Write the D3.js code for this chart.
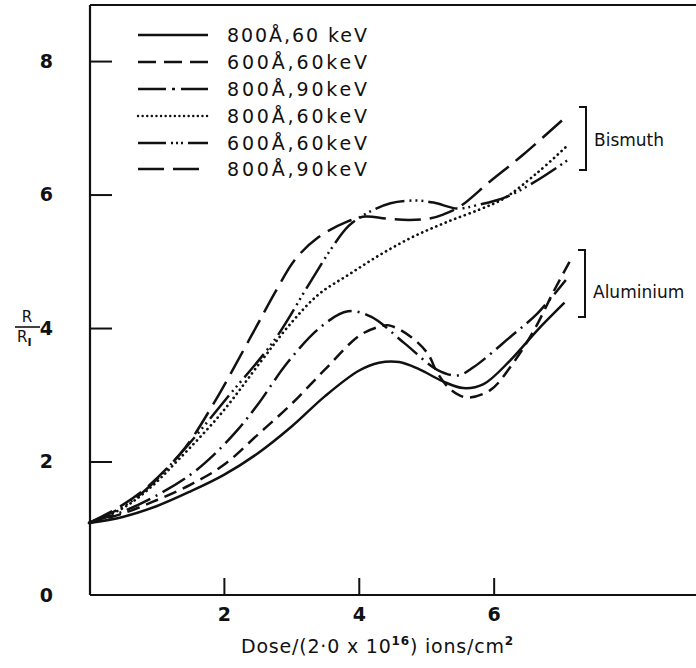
<!DOCTYPE html>
<html>
<head>
<meta charset="utf-8">
<script src="https://cdn.jsdelivr.net/npm/d3@7"></script>
<style>
  html, body { margin: 0; padding: 0; background: #fff; }
  svg { display: block; }
  text { font-family: "DejaVu Sans", "Liberation Sans", sans-serif; fill: #111; }
</style>
</head>
<body>
<svg id="chart" width="696" height="668"></svg>
<script>
// ---------------- data ----------------
const seriesNames = ["800Å,60 keV", "600Å,60keV", "800Å,90keV", "800Å,60keV", "600Å,60keV", "800Å,90keV"];
const seriesGroup = ["Aluminium", "Aluminium", "Aluminium", "Bismuth", "Bismuth", "Bismuth"];

// Aluminium, 800 Å, 60 keV (solid)
const alSolidX = [0, 0.5, 1.0, 1.5, 2.0, 2.5, 3.0, 3.5, 4.0, 4.3, 4.6, 4.9, 5.25, 5.55, 5.85, 6.25, 6.65, 7.05];
const alSolidY = [1.08, 1.17, 1.33, 1.55, 1.80, 2.12, 2.52, 2.98, 3.36, 3.48, 3.49, 3.38, 3.20, 3.10, 3.16, 3.52, 3.97, 4.38];
// Aluminium, 600 Å, 60 keV (dashed)
const alDashX = [0, 0.5, 1.0, 1.5, 2.0, 2.5, 3.0, 3.5, 4.0, 4.3, 4.45, 4.77, 5.02, 5.17, 5.37, 5.6, 5.95, 6.25, 6.6, 6.9, 7.14];
const alDashY = [1.08, 1.22, 1.42, 1.65, 1.95, 2.40, 2.86, 3.38, 3.88, 4.02, 4.04, 3.87, 3.62, 3.32, 3.07, 2.96, 3.07, 3.42, 3.97, 4.57, 5.02];
// Aluminium, 800 Å, 90 keV (dash-dot)
const alDashDotX = [0, 0.5, 1.0, 1.5, 1.85, 2.2, 2.5, 2.95, 3.44, 3.84, 4.18, 4.68, 5.17, 5.47, 5.71, 6.25, 6.65, 7.07];
const alDashDotY = [1.08, 1.25, 1.49, 1.80, 2.10, 2.47, 2.85, 3.49, 4.02, 4.25, 4.17, 3.77, 3.37, 3.29, 3.42, 3.87, 4.22, 4.72];
// Bismuth, 800 Å, 60 keV (dotted)
const biDotX = [0, 0.5, 0.9, 1.32, 1.96, 2.55, 2.95, 3.4, 3.85, 4.32, 4.81, 5.31, 5.8, 6.15, 6.64, 7.1];
const biDotY = [1.08, 1.30, 1.60, 2.02, 2.72, 3.50, 4.02, 4.50, 4.80, 5.10, 5.37, 5.59, 5.78, 5.94, 6.32, 6.74];
// Bismuth, 600 Å, 60 keV (dash-dot-dot)
const biDashDotDotX = [0, 0.5, 0.9, 1.47, 2.06, 2.75, 3.24, 3.58, 3.85, 4.12, 4.47, 4.81, 5.11, 5.46, 5.75, 6.2, 6.69, 7.09];
const biDashDotDotY = [1.08, 1.32, 1.63, 2.25, 2.97, 3.82, 4.62, 5.17, 5.53, 5.72, 5.87, 5.91, 5.88, 5.79, 5.84, 5.97, 6.24, 6.51];
// Bismuth, 800 Å, 90 keV (long dash)
const biLongDashX = [0, 0.5, 0.9, 1.42, 1.86, 2.4, 2.78, 3.05, 3.4, 3.82, 4.1, 4.4, 4.75, 5.05, 5.25, 5.5, 5.95, 6.44, 7.1];
const biLongDashY = [1.08, 1.35, 1.65, 2.20, 2.89, 3.87, 4.57, 5.02, 5.36, 5.59, 5.67, 5.64, 5.62, 5.64, 5.70, 5.82, 6.20, 6.60, 7.19];

const xTicks = [2, 4, 6];
const yTicks = [0, 2, 4, 6, 8];
const xTitle = "Dose/(2·0 x 10";
const xTitleExp = "16";
const xTitleTail = ") ions/cm";

// ---------------- styles (kept separate from data) ----------------
const plotDash = [null, "13,7", "26,6,2,6", "0.1,5", "30,5,2,4,2,4,2,5", "26,9"];
const legendDash = [null, "18,8", "28,6,3,6", "0.1,4.5", "28,5,2,3,2,3,2,5", "26,9"];

const seriesX = [alSolidX, alDashX, alDashDotX, biDotX, biDashDotDotX, biLongDashX];
const seriesY = [alSolidY, alDashY, alDashDotY, biDotY, biDashDotDotY, biLongDashY];

// ---------------- layout ----------------
const svg = d3.select("#chart");
const x = d3.scaleLinear().domain([0, 9.0]).range([89, 696]);
const y = d3.scaleLinear().domain([0, 8.84]).range([595, 5]);

const ink = "#111";

// frame: left axis, bottom axis, top line
svg.append("line").attr("x1", 90).attr("x2", 90).attr("y1", y(8.84)).attr("y2", y(0))
  .attr("stroke", ink).attr("stroke-width", 2.2);
svg.append("line").attr("x1", 90).attr("x2", 696).attr("y1", y(0)).attr("y2", y(0))
  .attr("stroke", ink).attr("stroke-width", 2);
svg.append("line").attr("x1", 90).attr("x2", 696).attr("y1", y(8.84)).attr("y2", y(8.84))
  .attr("stroke", ink).attr("stroke-width", 2);

// y axis (ticks pointing inward)
const yAxis = d3.axisLeft(y).tickValues(yTicks).tickFormat(d3.format("d"))
  .tickSizeInner(-22).tickSizeOuter(0).tickPadding(37);
const gy = svg.append("g").attr("transform", "translate(90,0)").call(yAxis);
gy.select(".domain").remove();
gy.selectAll(".tick line").attr("stroke", ink).attr("stroke-width", 2)
  .attr("display", d => d === 0 ? "none" : null);
gy.selectAll(".tick text").attr("font-size", 19).attr("font-weight", "bold")
  .attr("fill", ink).attr("font-family", "'DejaVu Sans', sans-serif");

// x axis (ticks pointing inward)
const xAxis = d3.axisBottom(x).tickValues(xTicks).tickFormat(d3.format("d"))
  .tickSizeInner(-17).tickSizeOuter(0).tickPadding(13);
const gx = svg.append("g").attr("transform", `translate(0,${y(0)})`).call(xAxis);
gx.select(".domain").remove();
gx.selectAll(".tick line").attr("stroke", ink).attr("stroke-width", 2);
gx.selectAll(".tick text").attr("font-size", 19).attr("font-weight", "bold")
  .attr("fill", ink).attr("font-family", "'DejaVu Sans', sans-serif");

// x axis title
const xt = svg.append("text").attr("x", 241).attr("y", 653).attr("font-size", 19)
  .attr("letter-spacing", 0.8);
xt.append("tspan").text(xTitle);
xt.append("tspan").attr("dy", -8).attr("font-size", 12).attr("font-weight", "bold").text(xTitleExp);
xt.append("tspan").attr("dy", 8).text(xTitleTail);
xt.append("tspan").attr("dy", -8).attr("font-size", 12).attr("font-weight", "bold").text("2");

// y axis title R / R_I
svg.append("text").attr("x", 27).attr("y", 322).attr("text-anchor", "middle")
  .attr("font-size", 15).text("R");
svg.append("line").attr("x1", 15).attr("x2", 40).attr("y1", 327).attr("y2", 327)
  .attr("stroke", ink).attr("stroke-width", 1.6);
const rr = svg.append("text").attr("x", 17).attr("y", 342).attr("font-size", 15);
rr.append("tspan").text("R");
rr.append("tspan").attr("dy", 4).attr("font-size", 11).attr("font-weight", "bold").text("I");

// curves
const line = d3.line().x(d => x(d[0])).y(d => y(d[1])).curve(d3.curveCatmullRom.alpha(0.5));
seriesX.forEach((xs, i) => {
  const pts = xs.map((v, j) => [v, seriesY[i][j]]);
  svg.append("path").datum(pts)
    .attr("d", line)
    .attr("fill", "none")
    .attr("stroke", ink)
    .attr("stroke-width", i === 3 ? 2.7 : 2.5)
    .attr("stroke-linecap", i === 3 ? "round" : "butt")
    .attr("stroke-dasharray", plotDash[i]);
});

// legend
const legendRowsY = [35, 62, 89, 116, 143, 169];
seriesNames.forEach((name, i) => {
  const ly = legendRowsY[i];
  svg.append("line").attr("x1", 138).attr("x2", 208).attr("y1", ly).attr("y2", ly)
    .attr("stroke", ink).attr("stroke-width", 2.4)
    .attr("stroke-linecap", i === 3 ? "round" : "butt")
    .attr("stroke-dasharray", legendDash[i]);
  svg.append("text").attr("x", 227).attr("y", ly + 7).attr("font-size", 19)
    .attr("textLength", 140).attr("lengthAdjust", "spacing")
    .text(name);
});

// group brackets
function bracket(x0, y0, y1, label, ty) {
  svg.append("path")
    .attr("d", `M${x0 - 7},${y0} H${x0} V${y1} H${x0 - 7}`)
    .attr("fill", "none").attr("stroke", ink).attr("stroke-width", 2);
  svg.append("text").attr("x", x0 + 8).attr("y", ty).attr("font-size", 17).text(label);
}
bracket(586, 107, 170, seriesGroup[3], 146);
bracket(585, 250, 317, seriesGroup[0], 298);
</script>
</body>
</html>
